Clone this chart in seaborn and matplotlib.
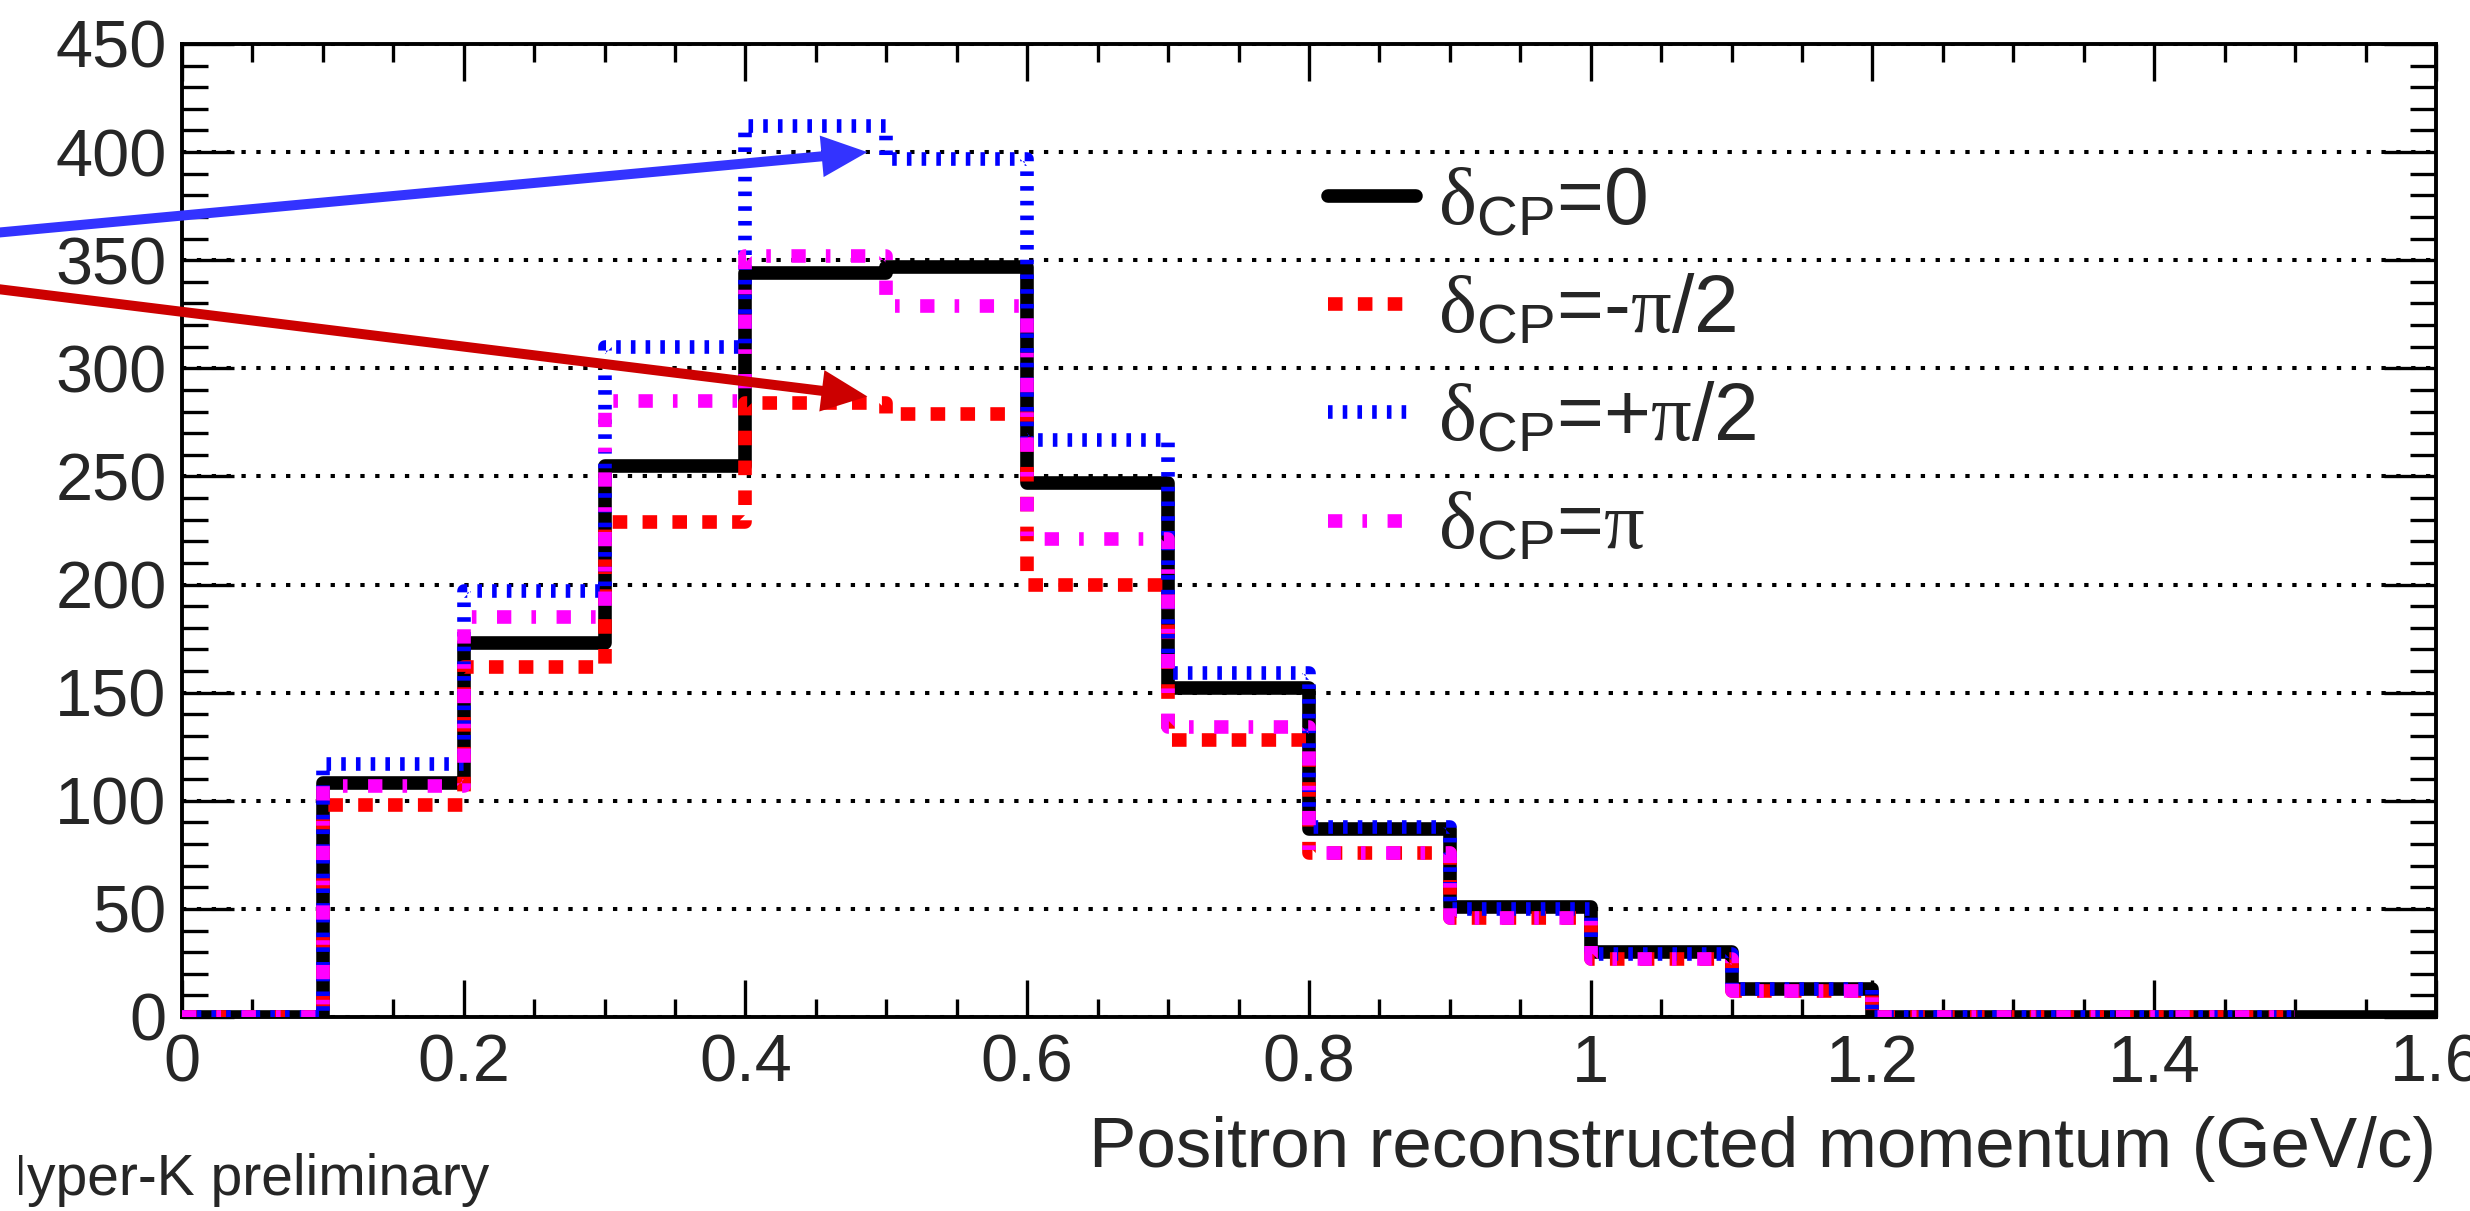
import numpy as np
import pandas as pd
import matplotlib
matplotlib.use("Agg")
import matplotlib.pyplot as plt
import matplotlib.ticker as mticker
from matplotlib.transforms import Bbox
import seaborn as sns

# bin edges of the positron momentum histograms (GeV/c)
edges_cp0 = [0.0, 0.1, 0.2, 0.3, 0.4, 0.5, 0.6, 0.7, 0.8, 0.9, 1.0, 1.1, 1.2, 1.3, 1.4, 1.5, 1.6]
edges_other = [0.0, 0.1, 0.2, 0.3, 0.4, 0.5, 0.6, 0.7, 0.8, 0.9, 1.0, 1.1, 1.2, 1.3, 1.4, 1.5]

# event counts per bin
counts_cp0 = [0, 108, 173, 255, 344, 347, 247, 152, 87, 51, 30, 13, 0, 0, 0, 0]
counts_cp_minus = [0, 98, 162, 229, 284, 279, 200, 128, 76, 46, 27, 12, 0, 0, 0]
counts_cp_plus = [0, 117, 197, 310, 412, 397, 267, 159, 88, 50, 29, 13, 0, 0, 0]
counts_cp_pi = [0, 107, 185, 285, 352, 329, 221, 134, 76, 46, 27, 12, 0, 0, 0]

labels = [
    r"$\mathrm{\delta}_{\mathsf{CP}}$=0",
    r"$\mathrm{\delta}_{\mathsf{CP}}$=-$\mathrm{\pi}$/2",
    r"$\mathrm{\delta}_{\mathsf{CP}}$=+$\mathrm{\pi}$/2",
    r"$\mathrm{\delta}_{\mathsf{CP}}$=$\mathrm{\pi}$",
]

# arrows pointing at the +pi/2 and -pi/2 curves (start lies off the cropped canvas)
arrow_blue = ((-0.135, 362.5), (0.4865, 400.0))
arrow_red = ((-0.135, 337.0), (0.4865, 287.0))

sns.set_style("ticks")
plt.rcParams["font.family"] = ["Liberation Sans", "DejaVu Sans"]
plt.rcParams["mathtext.fontset"] = "custom"
plt.rcParams["mathtext.rm"] = "Liberation Serif"
plt.rcParams["mathtext.sf"] = "Liberation Sans"
plt.rcParams["mathtext.it"] = "Liberation Serif:italic"
plt.rcParams["lines.scale_dashes"] = False

fig = plt.figure(figsize=(24.7, 12.11), dpi=100)
ax = fig.add_axes([0.07368, 0.16020, 0.91255, 0.80347])

lw = 9.8
styles = [
    dict(color="#000000", linestyle="-"),
    dict(color="#ff0000", linestyle=(0, (10.5, 11.0))),
    dict(color="#0000ff", linestyle=(0, (3.3, 7.3))),
    dict(color="#ff00ff", linestyle=(0, (10.3, 14.5, 3.3, 14.8))),
]
series = [
    (edges_cp0, counts_cp0),
    (edges_other, counts_cp_minus),
    (edges_other, counts_cp_plus),
    (edges_other, counts_cp_pi),
]

for (edges, counts), style, lab in zip(series, styles, labels):
    e = np.array(edges)
    df = pd.DataFrame({"p": (e[:-1] + e[1:]) / 2, "n": counts})
    sns.histplot(
        data=df, x="p", weights="n", bins=list(edges), element="step", fill=False,
        linewidth=lw, label=lab, ax=ax, zorder=3, **style,
    )

ax.set_xlim(0, 1.6)
ax.set_ylim(0, 450)
ax.set_ylabel("")

ax.xaxis.set_major_locator(mticker.MultipleLocator(0.2))
ax.xaxis.set_minor_locator(mticker.MultipleLocator(0.05))
ax.yaxis.set_major_locator(mticker.MultipleLocator(50))
ax.yaxis.set_minor_locator(mticker.MultipleLocator(10))
ax.xaxis.set_major_formatter(mticker.FuncFormatter(lambda v, p: f"{v:g}"))

ax.tick_params(axis="both", which="both", direction="in", top=True, right=True,
               width=2.4, color="black", labelsize=48)
ax.tick_params(axis="x", which="major", length=26.5, pad=12)
ax.tick_params(axis="x", which="minor", length=13)
ax.tick_params(axis="y", which="major", length=37.5, pad=11)
ax.tick_params(axis="y", which="minor", length=19)
for s in ax.spines.values():
    s.set_linewidth(2.8)
    s.set_color("black")

ax.grid(axis="y", which="major", color="black", linewidth=2.9,
        linestyle=(0, (3.1, 7.6)), zorder=1)
ax.set_axisbelow(True)

for (start, tip), col in zip([arrow_blue, arrow_red], ["#3333ff", "#cc0000"]):
    ax.annotate(
        "", xy=tip, xytext=start, xycoords="data", textcoords="data",
        annotation_clip=False,
        arrowprops=dict(arrowstyle="simple,head_length=3.3,head_width=3.0,tail_width=0.72",
                        mutation_scale=10, color=col, lw=0, shrinkA=0, shrinkB=0),
        zorder=5,
    )

ax.legend(
    handles=ax.lines[:4], labels=labels, loc="upper left",
    bbox_to_anchor=(0.5377, 0.8637), bbox_transform=fig.transFigure,
    frameon=False, fontsize=58, handlelength=1.093, handletextpad=0.267,
    labelspacing=0.40, borderpad=0, borderaxespad=0,
)

ax.set_xlabel("Positron reconstructed momentum (GeV/c)", fontsize=51)
ax.xaxis.set_label_coords(1.0, -0.1538)
ax.xaxis.label.set_ha("right")
ax.xaxis.label.set_va("baseline")

# the reference canvas is cropped just right of the "H"
hk = fig.text(-14.5 / 2470, 1 - 1195 / 1211, "Hyper-K preliminary", fontsize=41,
              ha="left", va="baseline")
hk.set_clip_box(Bbox([[19, 0], [2470, 1211]]))
hk.set_clip_on(True)

fig.savefig("out.png", dpi=100, facecolor="white")
